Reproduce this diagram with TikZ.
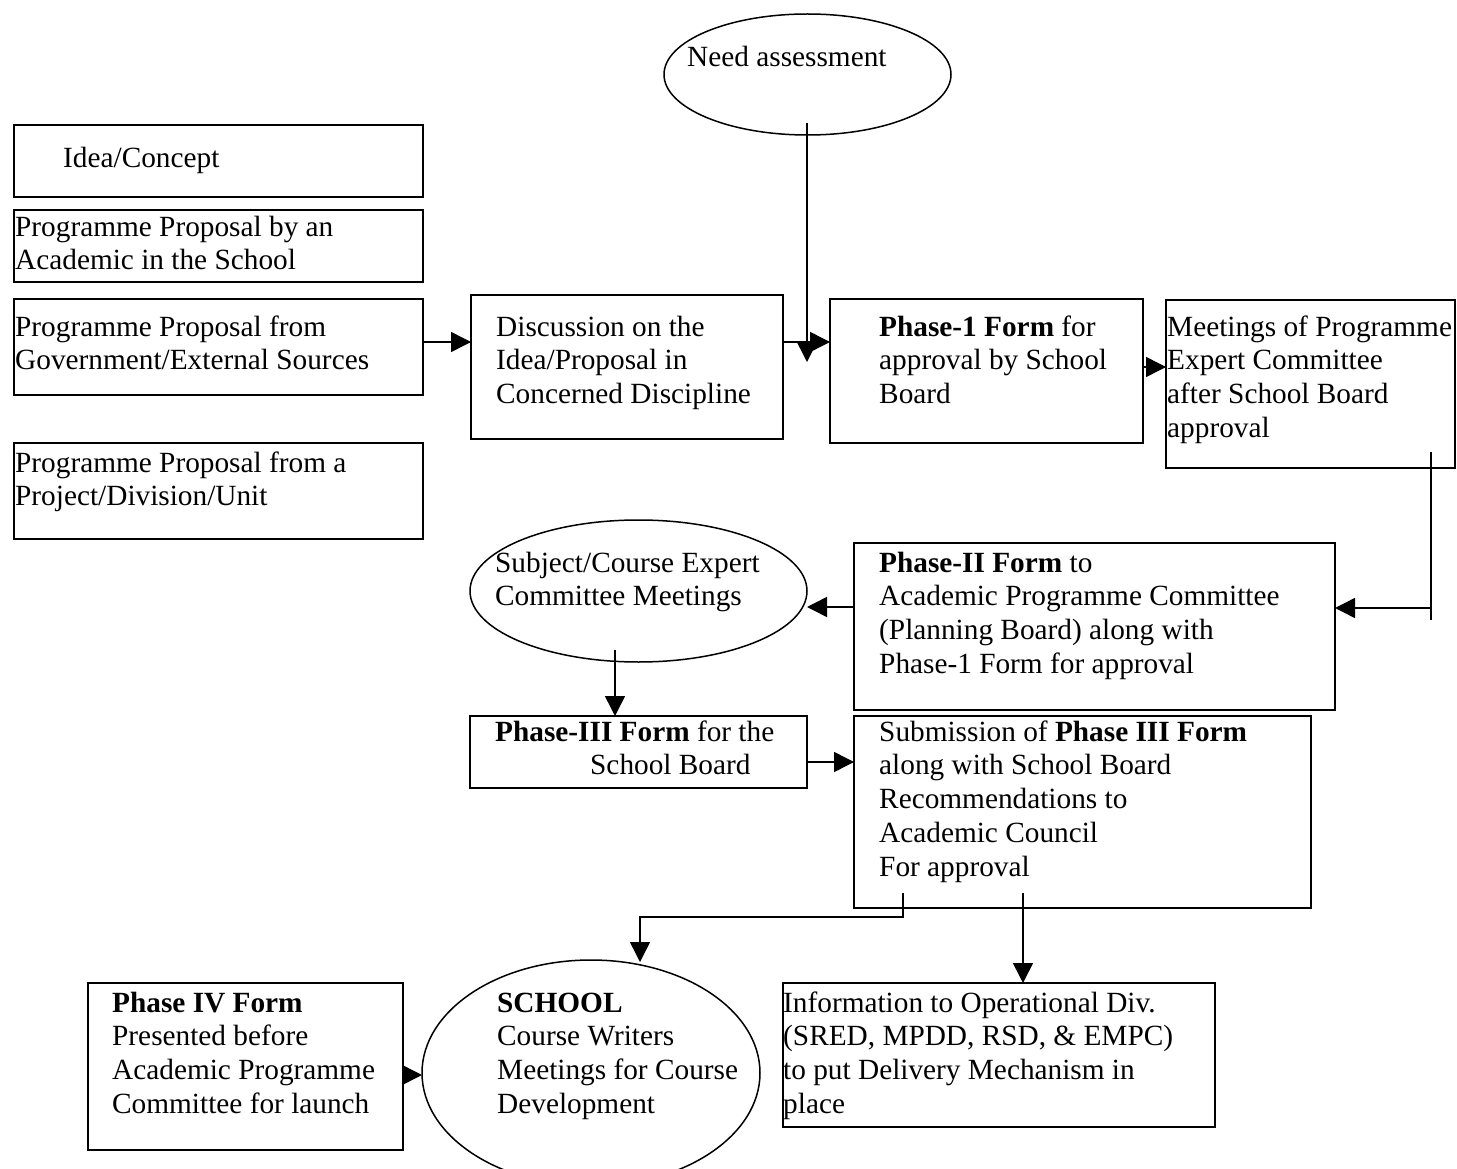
\documentclass[tikz,border=0pt]{standalone}
\usepackage{fontspec}
\setmainfont{Liberation Serif}
\usetikzlibrary{arrows.meta,fit,shapes.geometric}
\begin{document}
\begin{tikzpicture}[x=1pt,y=-1pt,
  box/.style={draw,line width=1.5pt,inner sep=0pt,outer sep=0pt},
  ell/.style={draw,ellipse,line width=1.5pt,inner sep=0pt,outer sep=0pt},
  txt/.style={anchor=north west,inner sep=0pt,align=left,yshift=-3.5pt,font=\fontsize{29.3}{33.7}\selectfont},
  arr/.style={line width=1.5pt,-{Triangle[length=20pt,width=20pt]}},
  ln/.style={line width=1.5pt}]
\useasboundingbox (0,0) rectangle (1457,1169);
% boxes
\node[box,fit={(14,125)(423,197)}] (idea) {};
\node[box,fit={(14,210)(423,282)}] (acad) {};
\node[box,fit={(14,299)(423,395)}] (gov) {};
\node[box,fit={(14,443)(423,539)}] (proj) {};
\node[box,fit={(471,295)(783,439)}] (disc) {};
\node[box,fit={(830,299)(1143,443)}] (pone) {};
\node[box,fit={(1166,300)(1455,468)}] (meet) {};
\node[box,fit={(854,543)(1335,710)}] (ptwo) {};
\node[box,fit={(470,716)(807,788)}] (pthree) {};
\node[box,fit={(854,716)(1311,908)}] (subm) {};
\node[box,fit={(783,983)(1215,1127)}] (info) {};
\node[box,fit={(88,983)(403,1150)}] (pfour) {};
% ellipses
\node[ell,minimum width=287pt,minimum height=121pt] (need) at (807.5,74.5) {};
\node[ell,minimum width=337pt,minimum height=142pt] (subj) at (638.5,591) {};
\node[ell,minimum width=338pt,minimum height=226pt] (school) at (591,1073) {};
% texts
\node[txt] (tneed) at (687,39) {\strut Need assessment};
\node[txt] (tidea) at (63,140) {\strut Idea/Concept};
\node[txt] (tacad) at (15,209) {\strut Programme Proposal by an\\Academic in the School};
\node[txt] (tgov) at (15,309) {\strut Programme Proposal from\\Government/External Sources};
\node[txt] (tproj) at (15,445) {\strut Programme Proposal from a\\Project/Division/Unit};
\node[txt] (tdisc) at (496,309) {\strut Discussion on the\\Idea/Proposal in\\Concerned Discipline};
\node[txt] (tpone) at (879,309) {\strut\textbf{Phase-1 Form} for\\approval by School\\Board};
\node[txt] (tmeet) at (1167,309) {\strut Meetings of Programme\\Expert Committee\\after School Board\\approval};
\node[txt] (tsubj) at (495,545) {\strut Subject/Course Expert\\Committee Meetings};
\node[txt] (tptwo) at (879,545) {\strut\textbf{Phase-II Form} to\\Academic Programme Committee\\(Planning Board) along with\\Phase-1 Form for approval};
\node[txt] (tpthree) at (495,714) {\strut\textbf{Phase-III Form} for the\\\hspace*{95pt}School Board};
\node[txt] (tsubm) at (879,714) {\strut Submission of \textbf{Phase III Form}\\along with School Board\\Recommendations to\\Academic Council\\For approval};
\node[txt] (tpfour) at (112,985) {\strut\textbf{Phase IV Form}\\Presented before\\Academic Programme\\Committee for launch};
\node[txt] (tschool) at (497,985) {\strut\textbf{SCHOOL}\\Course Writers\\Meetings for Course\\Development};
\node[txt] (tinfo) at (783,985) {\strut Information to Operational Div.\\(SRED, MPDD, RSD, \& EMPC)\\to put Delivery Mechanism in\\place};
% helper coordinates
\coordinate (needfoot) at (807,123);
\coordinate (meetfoot) at (1431,452);
\coordinate (meetend) at (1431,620);
\coordinate (subjfoot) at (615,650);
\coordinate (submfootA) at (903,893);
\coordinate (submfootB) at (1023,893);
% connectors
\draw[arr] (gov.east |- 0,342) -- (disc.west |- 0,342);
\draw[arr] (disc.east |- 0,342) -- (pone.west |- 0,342);
\draw[arr] (needfoot) -- (807,362);
\draw[arr] (pone.east |- 0,367) -- (meet.west |- 0,367);
\draw[ln] (meetfoot) -- (meetend);
\draw[arr] (meetfoot |- 0,608) -- (ptwo.east |- 0,608);
\draw[arr] (ptwo.west |- 0,607) -- (subj.east |- 0,607);
\draw[arr] (subjfoot) -- (subjfoot |- pthree.north);
\draw[arr] (pthree.east |- 0,762) -- (subm.west |- 0,762);
\draw[arr] (submfootA) -- (903,917) -- (640,917) -- (640,962);
\draw[arr] (submfootB) -- (submfootB |- info.north);
\draw[arr] (pfour.east |- 0,1075) -- (school.west |- 0,1075);
\end{tikzpicture}
\end{document}
